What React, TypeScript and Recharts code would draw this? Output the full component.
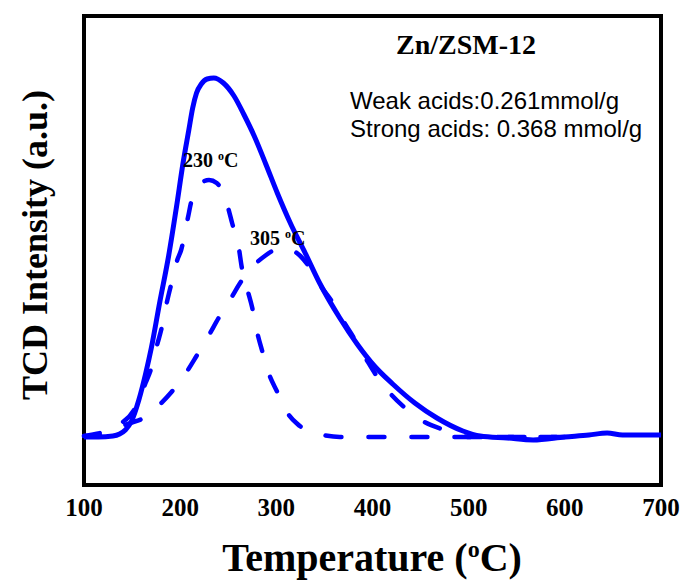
import { LineChart, Line, XAxis, YAxis, ReferenceArea } from 'recharts';

// temperature (°C) / TCD signal (a.u.)
const measuredT = [100, 115, 130, 137, 143, 149, 157, 164, 170, 179, 188, 196, 203, 209, 213, 217, 222, 228, 235, 245, 256, 266, 277, 289, 301, 315, 330, 345, 366, 384, 402, 421, 444, 467, 494, 512, 540, 567, 600, 625, 644, 660, 680, 700];
const measuredV = [-1, -1, 0, 2, 6, 14, 36, 62, 88, 135, 180, 228, 273, 306, 328, 343, 352, 357, 358, 353, 340, 322, 300, 272, 243, 212, 183, 153, 118, 92, 70, 52, 33, 18, 5, 0, -2, -4, -1, 1, 3, 1, 1, 1];

const weakT = [100, 112, 120, 136, 152, 164, 170, 176, 181, 186, 191, 197, 201, 208, 212, 222, 230, 238, 249, 254, 261, 264, 270, 275, 280, 285, 292, 301, 311, 322, 335, 348, 366, 400, 450, 500, 550, 600];
const weakV = [0, 0, 2, 11, 26, 53, 68, 91, 109, 133, 153, 176, 186, 218, 236, 253, 256, 253, 231, 213, 188, 169, 146, 128, 104, 86, 63, 44, 24, 12, 4, 1, -1, -1, -1, -1, -1, -1];

const strongT = [100, 125, 148, 160, 176, 191, 206, 217, 230, 240, 253, 263, 277, 288, 298, 307, 316, 325, 335, 347, 359, 371, 382, 394, 405, 418, 434, 454, 475, 491, 501, 550, 600];
const strongV = [0, 5, 13, 17, 29, 44, 63, 80, 101, 118, 138, 154, 171, 180, 186, 188, 186, 180, 168, 149, 133, 113, 96, 76, 59, 43, 28, 14, 6, 1, -1, -1, -1];

const xTicks = [100, 200, 300, 400, 500, 600, 700];

const toPoints = (ts: number[], vs: number[]) => ts.map((t, i) => ({ t, v: vs[i] }));
const measured = toPoints(measuredT, measuredV);
const weak = toPoints(weakT, weakV);
const strong = toPoints(strongT, strongV);

const serif = '"Liberation Serif", "Times New Roman", Times, serif';
const sans = '"Liberation Sans", Arial, Helvetica, sans-serif';
const BLUE = '#0000ff';

const sup = { fontSize: '0.6em', verticalAlign: '0.6em', lineHeight: 0 };

export default function App() {
  return (
    <div style={{ position: 'absolute', left: 0, top: 0, width: 683, height: 583, background: '#fff' }}>
      <LineChart width={683} height={583} margin={{ top: 16, right: 22, bottom: 68, left: 84 }}>
        <XAxis
          type="number"
          dataKey="t"
          domain={[100, 700]}
          ticks={xTicks}
          height={30}
          axisLine={false}
          tickLine={false}
          tickMargin={7}
          tick={{ fill: '#000', fontSize: 25, fontWeight: 'bold', fontFamily: serif }}
        />
        <YAxis type="number" domain={[-49, 420]} hide width={0} />
        <Line data={weak} dataKey="v" type="monotone" stroke={BLUE} strokeWidth={4.5} strokeDasharray="16 27" strokeLinecap="round" dot={false} isAnimationActive={false} />
        <Line data={strong} dataKey="v" type="monotone" stroke={BLUE} strokeWidth={4.5} strokeDasharray="16 27" strokeLinecap="round" dot={false} isAnimationActive={false} />
        <Line data={measured} dataKey="v" type="monotone" stroke={BLUE} strokeWidth={5} dot={false} isAnimationActive={false} />
        <ReferenceArea x1={100} x2={700} y1={-49} y2={420} fill="none" stroke="#000" strokeWidth={4} />
      </LineChart>

      <div style={{ position: 'absolute', left: 396, top: 31, fontFamily: serif, fontWeight: 'bold', fontSize: 28, lineHeight: 1, whiteSpace: 'nowrap' }}>
        Zn/ZSM-12
      </div>
      <div style={{ position: 'absolute', left: 350, top: 89, fontFamily: sans, fontSize: 24, lineHeight: 1, whiteSpace: 'nowrap' }}>
        Weak acids:0.261mmol/g
      </div>
      <div style={{ position: 'absolute', left: 350, top: 117, fontFamily: sans, fontSize: 24, lineHeight: 1, whiteSpace: 'nowrap' }}>
        Strong acids: 0.368 mmol/g
      </div>
      <div style={{ position: 'absolute', left: 183, top: 150, fontFamily: serif, fontWeight: 'bold', fontSize: 20, lineHeight: 1, whiteSpace: 'nowrap' }}>
        230 <span style={sup}>o</span>C
      </div>
      <div style={{ position: 'absolute', left: 250, top: 228, fontFamily: serif, fontWeight: 'bold', fontSize: 20, lineHeight: 1, whiteSpace: 'nowrap' }}>
        305 <span style={sup}>o</span>C
      </div>

      <div style={{ position: 'absolute', left: 72, width: 600, top: 538, textAlign: 'center', fontFamily: serif, fontWeight: 'bold', fontSize: 40, lineHeight: 1, whiteSpace: 'nowrap' }}>
        Temperature (<span style={sup}>o</span>C)
      </div>
      <div
        style={{
          position: 'absolute',
          left: 35,
          top: 245,
          transform: 'translate(-50%, -50%) rotate(-90deg)',
          fontFamily: serif,
          fontWeight: 'bold',
          fontSize: 36,
          lineHeight: 1,
          whiteSpace: 'nowrap',
        }}
      >
        TCD Intensity (a.u.)
      </div>
    </div>
  );
}
